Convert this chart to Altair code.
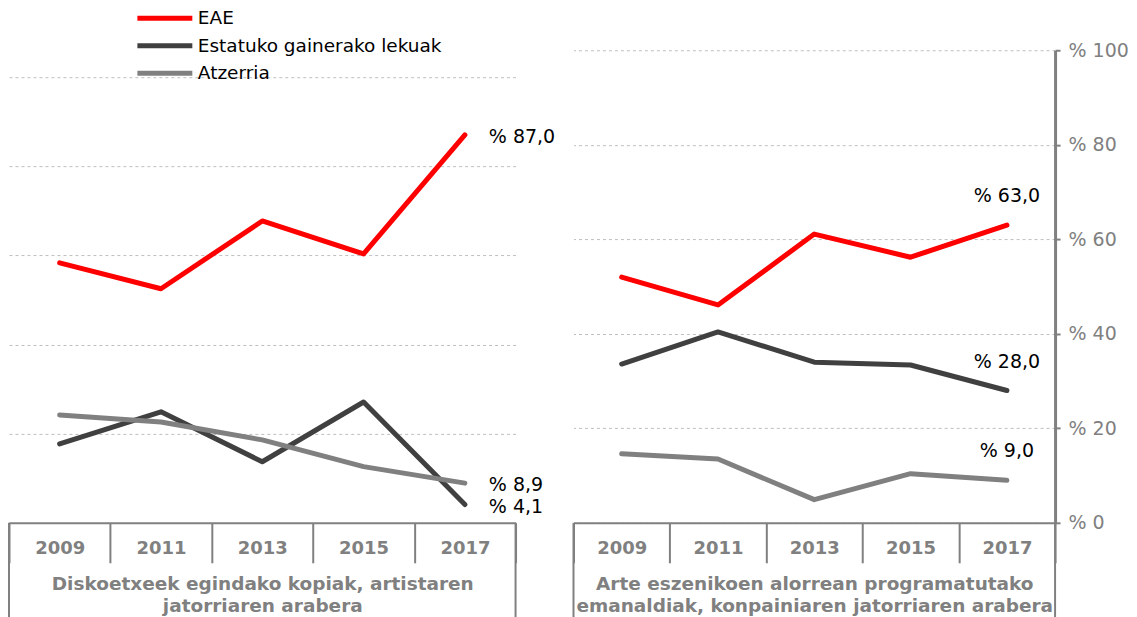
import altair as alt
import pandas as pd

years = ["2009", "2011", "2013", "2015", "2017"]
series = ["EAE", "Estatuko gainerako lekuak", "Atzerria"]
colors = ["#FF0000", "#404040", "#808080"]

# Left panel: Diskoetxeek egindako kopiak
left_eae = [58.3, 52.5, 67.7, 60.3, 87.0]
left_est = [17.7, 24.9, 13.7, 27.1, 4.1]
left_atz = [24.2, 22.6, 18.6, 12.6, 8.9]
left_labels = {"EAE": "% 87,0", "Estatuko gainerako lekuak": "% 4,1", "Atzerria": "% 8,9"}
left_title = ["Diskoetxeek egindako kopiak, artistaren", "jatorriaren arabera"]

# Right panel: Arte eszenikoen alorrean programatutako emanaldiak
right_eae = [52.0, 46.1, 61.1, 56.2, 63.0]
right_est = [33.6, 40.4, 34.0, 33.4, 28.0]
right_atz = [14.6, 13.5, 4.9, 10.4, 9.0]
right_labels = {"EAE": "% 63,0", "Estatuko gainerako lekuak": "% 28,0", "Atzerria": "% 9,0"}
right_title = ["Arte eszenikoen alorrean programatutako", "emanaldiak, konpainiaren jatorriaren arabera"]

grid_ticks = [20, 40, 60, 80, 100]
right_ticks = [0, 20, 40, 60, 80, 100]

GRAY = "#808080"
FONT = "DejaVu Sans"
H = 473


def build_df(vals_list, labels):
    rows = []
    for s, vals in zip(series, vals_list):
        for i, (y, v) in enumerate(zip(years, vals)):
            rows.append({"year": y, "series": s, "value": v,
                         "label": labels[s] if i == len(years) - 1 else ""})
    return pd.DataFrame(rows)


color = alt.Color(
    "series:N",
    scale=alt.Scale(domain=series, range=colors),
    sort=series,
    legend=alt.Legend(
        orient="none", legendX=126, legendY=-42, direction="vertical",
        title=None, symbolType="stroke", symbolSize=3025, symbolStrokeWidth=5,
        labelFontSize=18.5, labelColor="black", labelFont=FONT, labelOffset=3,
        labelLimit=500, clipHeight=20, rowPadding=7.5,
    ),
)


def x_enc(title):
    return alt.X(
        "year:N", sort=years,
        scale=alt.Scale(paddingInner=0, paddingOuter=0),
        axis=alt.Axis(
            title=title, labelAngle=0, labelFontSize=18, labelFontWeight="bold",
            labelColor=GRAY, labelFont=FONT, labelPadding=-23,
            tickBand="extent", tickSize=40, tickWidth=2, tickColor=GRAY,
            domainColor=GRAY, domainWidth=2,
            titleFontSize=18.5, titleFontWeight="bold", titleColor=GRAY, titleFont=FONT,
            titlePadding=11, titleLineHeight=22, titleLimit=600,
        ),
    )


def frame_layers(width):
    a = alt.Chart(pd.DataFrame({"k": [0]})).mark_rule(color=GRAY, strokeWidth=2).encode(
        x=alt.value(0), y=alt.value(H), y2=alt.value(H + 110))
    b = alt.Chart(pd.DataFrame({"k": [0]})).mark_rule(color=GRAY, strokeWidth=2).encode(
        x=alt.value(width), y=alt.value(H), y2=alt.value(H + 110))
    return [a, b]


# Left panel
ldf = build_df([left_eae, left_est, left_atz], left_labels)
lbase = alt.Chart(ldf)
ly = alt.Y("value:Q", scale=alt.Scale(domain=[0, 106], nice=False),
           axis=alt.Axis(values=grid_ticks, labels=False, ticks=False, domain=False,
                         title=None, grid=True, gridColor="#BFBFBF", gridDash=[3, 3],
                         gridWidth=1))
lline = lbase.mark_line(strokeWidth=5, strokeCap="round", strokeJoin="round").encode(
    x=x_enc(left_title), y=ly, color=color)
ltext = lbase.mark_text(align="left", baseline="middle", dx=24, dy=2, fontSize=19,
                        font=FONT, color="black").encode(
    x=alt.X("year:N", sort=years), y="value:Q", text="label:N")
left = alt.layer(lline, ltext, *frame_layers(507)).properties(width=507, height=H)

# Right panel
rdf = build_df([right_eae, right_est, right_atz], right_labels)
rbase = alt.Chart(rdf)
ry = alt.Y("value:Q", scale=alt.Scale(domain=[0, 100], nice=False),
           axis=alt.Axis(orient="right", values=right_ticks, title=None,
                         labelExpr="'% ' + datum.value", labelFontSize=19,
                         labelColor=GRAY, labelFont=FONT, labelPadding=8,
                         ticks=True, tickSize=5, tickWidth=2, tickColor=GRAY,
                         domainColor=GRAY, domainWidth=3,
                         grid=True, gridColor="#BFBFBF", gridDash=[3, 3], gridWidth=1))
rline = rbase.mark_line(strokeWidth=5, strokeCap="round", strokeJoin="round").encode(
    x=x_enc(right_title), y=ry, color=color)
rtext = rbase.mark_text(align="center", baseline="middle", dy=-29, fontSize=19,
                        font=FONT, color="black").encode(
    x=alt.X("year:N", sort=years), y="value:Q", text="label:N")
right = alt.layer(rline, rtext, *frame_layers(482)).properties(width=482, height=H)

chart = alt.hconcat(left, right, spacing=58, bounds="flush").properties(
    padding={"left": 0, "top": 0, "right": 0, "bottom": 0},
).configure(font=FONT).configure_view(stroke=None)

chart.save("out.html", embed_options={"renderer": "svg", "actions": False})
